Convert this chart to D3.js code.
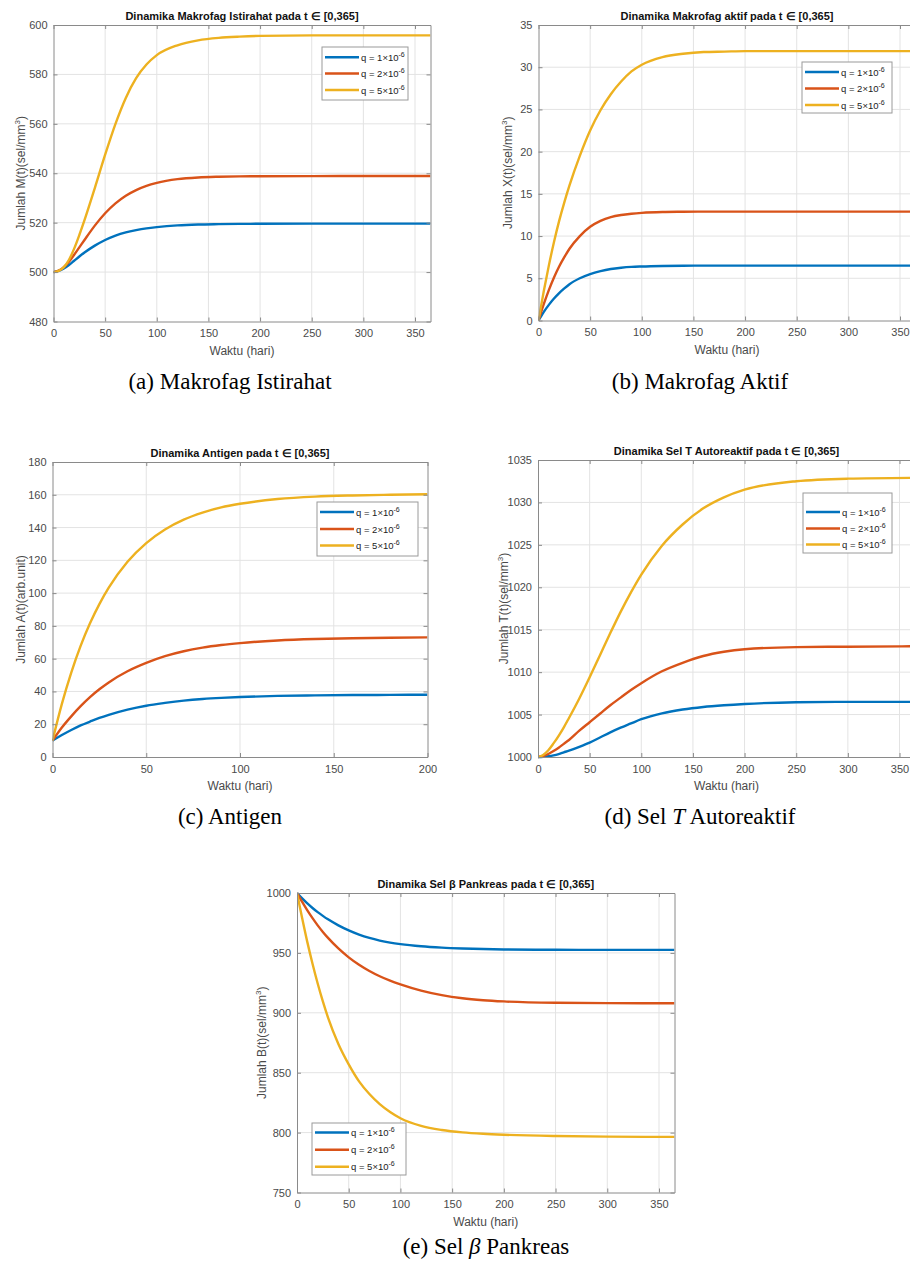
<!DOCTYPE html>
<html>
<head>
<meta charset="utf-8">
<script src="https://cdn.jsdelivr.net/npm/d3@7"></script>
<style>
  body { margin: 0; background: #fff; }
  svg { display: block; }
  text { font-family: "Liberation Sans", Arial, Helvetica, sans-serif; }
</style>
</head>
<body>
<svg id="fig" width="910" height="1266"></svg>
<script>
// ---- time grid (days) ----
const tDays = [0, 5, 10, 15, 20, 25, 30, 40, 50, 60, 70, 80, 90, 100, 120, 140, 160, 180, 200, 250, 300, 365];
const tDaysAntigen = [0, 5, 10, 15, 20, 25, 30, 40, 50, 60, 70, 80, 90, 100, 120, 140, 160, 180, 200];

// ---- parameter values shown in legends ----
const qMantissa = ["1", "2", "5"];
const qExponent = "-6";
const seriesColors = ["#0072BD", "#D95319", "#EDB120"];

// ---- (a) resting macrophages M(t) ----
const M_q1 = [500, 500.5, 501.5, 502.9, 504.6, 506.3, 507.9, 510.7, 513.0, 514.8, 516.1, 517.0, 517.7, 518.2, 518.9, 519.25, 519.4, 519.5, 519.55, 519.6, 519.6, 519.6];
const M_q2 = [500, 500.6, 502.0, 504.2, 507.0, 510.0, 513.0, 518.8, 523.8, 527.8, 530.9, 533.2, 534.9, 536.1, 537.6, 538.3, 538.6, 538.75, 538.8, 538.85, 538.9, 538.9];
const M_q5 = [500, 500.5, 502.0, 505.0, 509.5, 515.0, 521.0, 534.0, 547.5, 560.0, 570.5, 578.5, 584.0, 587.8, 591.8, 593.8, 594.8, 595.3, 595.6, 595.8, 595.8, 595.8];

// ---- (b) active macrophages X(t) ----
const X_q1 = [0, 1.0, 1.85, 2.6, 3.25, 3.8, 4.3, 5.0, 5.5, 5.85, 6.1, 6.25, 6.35, 6.4, 6.46, 6.49, 6.5, 6.5, 6.5, 6.5, 6.5, 6.5];
const X_q2 = [0, 1.9, 3.6, 5.1, 6.4, 7.5, 8.5, 10.0, 11.1, 11.8, 12.25, 12.5, 12.65, 12.75, 12.85, 12.88, 12.9, 12.9, 12.9, 12.9, 12.9, 12.9];
const X_q5 = [0, 3.4, 6.5, 9.3, 11.8, 14.0, 16.0, 19.5, 22.5, 24.9, 26.8, 28.3, 29.5, 30.3, 31.2, 31.6, 31.8, 31.85, 31.9, 31.9, 31.9, 31.9];

// ---- (c) antigen A(t), 0..200 days ----
const A_q1 = [10, 13.4, 16.5, 19.3, 21.6, 23.8, 25.7, 28.9, 31.3, 33.0, 34.4, 35.4, 36.1, 36.6, 37.3, 37.6, 37.8, 37.9, 38.0];
const A_q2 = [10, 18.0, 24.8, 31.0, 36.5, 41.3, 45.5, 52.3, 57.4, 61.5, 64.5, 66.7, 68.3, 69.5, 71.1, 72.0, 72.5, 72.8, 73.0];
const A_q5 = [10, 32.4, 51.5, 67.8, 81.6, 93.3, 103.3, 119.1, 130.5, 138.8, 144.8, 149.1, 152.3, 154.5, 157.4, 158.9, 159.6, 160.0, 160.3];

// ---- (d) autoreactive T cells T(t) ----
const T_q1 = [1000, 1000.03, 1000.1, 1000.2, 1000.35, 1000.55, 1000.75, 1001.2, 1001.7, 1002.3, 1002.9, 1003.45, 1003.95, 1004.45, 1005.15, 1005.6, 1005.9, 1006.1, 1006.25, 1006.45, 1006.5, 1006.5];
const T_q2 = [1000, 1000.1, 1000.35, 1000.7, 1001.1, 1001.55, 1002.0, 1003.1, 1004.1, 1005.1, 1006.1, 1007.0, 1007.9, 1008.7, 1010.1, 1011.1, 1011.9, 1012.4, 1012.7, 1012.95, 1013.0, 1013.05];
const T_q5 = [1000, 1000.25, 1000.8, 1001.6, 1002.5, 1003.5, 1004.6, 1006.9, 1009.4, 1012.0, 1014.6, 1017.1, 1019.4, 1021.5, 1024.9, 1027.4, 1029.3, 1030.6, 1031.5, 1032.5, 1032.8, 1032.9];

// ---- (e) pancreatic beta cells B(t) ----
const B_q1 = [1000, 995.5, 991.3, 987.5, 984.0, 980.9, 978.0, 973.0, 968.8, 965.3, 962.5, 960.3, 958.6, 957.3, 955.5, 954.4, 953.7, 953.2, 952.9, 952.6, 952.5, 952.5];
const B_q2 = [1000, 992.5, 985.5, 979.0, 973.0, 967.5, 962.5, 953.7, 946.3, 940.1, 934.9, 930.5, 926.8, 923.7, 918.5, 914.7, 912.1, 910.5, 909.5, 908.4, 908.1, 908.0];
const B_q5 = [1000, 979.0, 959.0, 941.0, 924.5, 909.5, 896.0, 874.0, 857.0, 842.8, 832.2, 823.8, 817.2, 812.0, 805.6, 802.2, 800.2, 799.0, 798.2, 797.1, 796.6, 796.4];

// ---- axis ticks ----
const xTicksYear = [0, 50, 100, 150, 200, 250, 300, 350];
const xTicksAntigen = [0, 50, 100, 150, 200];
const yTicksM = [480, 500, 520, 540, 560, 580, 600];
const yTicksX = [0, 5, 10, 15, 20, 25, 30, 35];
const yTicksA = [0, 20, 40, 60, 80, 100, 120, 140, 160, 180];
const yTicksT = [1000, 1005, 1010, 1015, 1020, 1025, 1030, 1035];
const yTicksB = [750, 800, 850, 900, 950, 1000];

// ---- panel layout ----
const panels = [
  { title: "Dinamika Makrofag Istirahat pada t ∈ [0,365]",
    yLabel: ["Jumlah M(t)(sel/mm", "3", ")"], caption: ["(a) Makrofag Istirahat"],
    t: tDays, series: [M_q1, M_q2, M_q5], xDomain: [0, 365], yDomain: [480, 600],
    xTicks: xTicksYear, yTicks: yTicksM,
    box: { left: 53.5, right: 430.5, top: 25, bottom: 321.5 },
    yLabelX: 25, captionX: 230, captionY: 389,
    legend: { x: 322, y: 47, w: 86, h: 53, rows: [57.3, 73.5, 90] } },
  { title: "Dinamika Makrofag aktif pada t ∈ [0,365]",
    yLabel: ["Jumlah X(t)(sel/mm", "3", ")"], caption: ["(b) Makrofag Aktif"],
    t: tDays, series: [X_q1, X_q2, X_q5], xDomain: [0, 365], yDomain: [0, 35],
    xTicks: xTicksYear, yTicks: yTicksX,
    box: { left: 538.5, right: 915.5, top: 25, bottom: 320.5 },
    yLabelX: 512, captionX: 700, captionY: 389,
    legend: { x: 802, y: 62, w: 90, h: 51, rows: [72, 88.5, 105] } },
  { title: "Dinamika Antigen pada t ∈ [0,365]",
    yLabel: ["Jumlah A(t)(arb.unit)"], caption: ["(c) Antigen"],
    t: tDaysAntigen, series: [A_q1, A_q2, A_q5], xDomain: [0, 200], yDomain: [0, 180],
    xTicks: xTicksAntigen, yTicks: yTicksA,
    box: { left: 52.5, right: 427.5, top: 462, bottom: 757 },
    yLabelX: 25, captionX: 230, captionY: 824,
    legend: { x: 317, y: 502, w: 101, h: 54, rows: [512, 529, 545.5] } },
  { title: "Dinamika Sel T Autoreaktif pada t ∈ [0,365]",
    yLabel: ["Jumlah T(t)(sel/mm", "3", ")"], caption: ["(d) Sel ", "T", " Autoreaktif"],
    t: tDays, series: [T_q1, T_q2, T_q5], xDomain: [0, 365], yDomain: [1000, 1035],
    xTicks: xTicksYear, yTicks: yTicksT,
    box: { left: 538, right: 915, top: 460, bottom: 757 },
    yLabelX: 508, captionX: 700, captionY: 824,
    legend: { x: 803, y: 493, w: 89, h: 60, rows: [512, 528.5, 544.5] } },
  { title: "Dinamika Sel β Pankreas pada t ∈ [0,365]",
    yLabel: ["Jumlah B(t)(sel/mm", "3", ")"], caption: ["(e) Sel ", "β", " Pankreas"],
    t: tDays, series: [B_q1, B_q2, B_q5], xDomain: [0, 365], yDomain: [750, 1000],
    xTicks: xTicksYear, yTicks: yTicksB,
    box: { left: 297, right: 674.5, top: 893, bottom: 1192.5 },
    yLabelX: 266, captionX: 486, captionY: 1254,
    legend: { x: 312, y: 1123, w: 94, h: 52, rows: [1132.5, 1149.7, 1166.7] } }
];

const svg = d3.select("#fig");
const axisColor = "#8a8a8a";
const tickTextColor = "#4a4a4a";
const gridColor = "#e3e3e3";
const plainNumber = d3.format("d");

panels.forEach((p, i) => {
  const b = p.box;
  const x = d3.scaleLinear().domain(p.xDomain).range([b.left, b.right]);
  const y = d3.scaleLinear().domain(p.yDomain).range([b.bottom, b.top]);
  const g = svg.append("g").attr("class", "panel");

  // plot background
  g.append("rect").attr("x", b.left).attr("y", b.top)
    .attr("width", b.right - b.left).attr("height", b.bottom - b.top).attr("fill", "#fff");

  // grid
  g.append("g").selectAll("line").data(p.xTicks.filter(v => v > p.xDomain[0] && v < p.xDomain[1]))
    .join("line").attr("x1", d => x(d)).attr("x2", d => x(d))
    .attr("y1", b.top).attr("y2", b.bottom).attr("stroke", gridColor).attr("stroke-width", 1);
  g.append("g").selectAll("line").data(p.yTicks.filter(v => v > p.yDomain[0] && v < p.yDomain[1]))
    .join("line").attr("y1", d => y(d)).attr("y2", d => y(d))
    .attr("x1", b.left).attr("x2", b.right).attr("stroke", gridColor).attr("stroke-width", 1);

  // clip for curves
  const clipId = "clip" + i;
  g.append("clipPath").attr("id", clipId).append("rect")
    .attr("x", b.left).attr("y", b.top - 2).attr("width", b.right - b.left).attr("height", b.bottom - b.top + 4);

  const line = d3.line().x((d, k) => x(p.t[k])).y(d => y(d)).curve(d3.curveMonotoneX);
  const curves = g.append("g").attr("clip-path", `url(#${clipId})`);
  p.series.forEach((vals, s) => {
    curves.append("path").datum(vals).attr("d", line)
      .attr("fill", "none").attr("stroke", seriesColors[s]).attr("stroke-width", 2.4)
      .attr("stroke-linejoin", "round");
  });

  // axes (inward ticks, box on)
  const styleAxis = sel => {
    sel.select(".domain").attr("stroke", axisColor);
    sel.selectAll(".tick line").attr("stroke", axisColor);
    sel.selectAll(".tick text").attr("fill", tickTextColor).attr("font-size", 11);
  };
  g.append("g").attr("transform", `translate(0,${b.bottom})`)
    .call(d3.axisBottom(x).tickValues(p.xTicks).tickFormat(plainNumber).tickSizeInner(-4).tickSizeOuter(0).tickPadding(8))
    .call(styleAxis);
  g.append("g").attr("transform", `translate(0,${b.top})`)
    .call(d3.axisTop(x).tickValues(p.xTicks).tickSizeInner(-4).tickSizeOuter(0).tickFormat(""))
    .call(styleAxis);
  g.append("g").attr("transform", `translate(${b.left},0)`)
    .call(d3.axisLeft(y).tickValues(p.yTicks).tickFormat(plainNumber).tickSizeInner(-4).tickSizeOuter(0).tickPadding(6))
    .call(styleAxis);
  g.append("g").attr("transform", `translate(${b.right},0)`)
    .call(d3.axisRight(y).tickValues(p.yTicks).tickSizeInner(-4).tickSizeOuter(0).tickFormat(""))
    .call(styleAxis);
  g.selectAll(".tick text").attr("font-family", "Liberation Sans, Arial, sans-serif");

  // title
  g.append("text").attr("x", (b.left + b.right) / 2).attr("y", b.top - 5)
    .attr("text-anchor", "middle").attr("font-size", 11).attr("font-weight", "bold")
    .attr("fill", "#111").text(p.title);

  // x label
  g.append("text").attr("x", (b.left + b.right) / 2).attr("y", b.bottom + 33)
    .attr("text-anchor", "middle").attr("font-size", 12).attr("fill", tickTextColor)
    .text("Waktu (hari)");

  // y label
  const yl = g.append("text")
    .attr("transform", `translate(${p.yLabelX},${(b.top + b.bottom) / 2}) rotate(-90)`)
    .attr("text-anchor", "middle").attr("font-size", 12).attr("fill", tickTextColor);
  yl.append("tspan").text(p.yLabel[0]);
  if (p.yLabel.length > 1) {
    yl.append("tspan").attr("dy", -5).attr("font-size", 8).text(p.yLabel[1]);
    yl.append("tspan").attr("dy", 5).text(p.yLabel[2]);
  }

  // legend
  const L = p.legend;
  const lg = g.append("g");
  lg.append("rect").attr("x", L.x).attr("y", L.y).attr("width", L.w).attr("height", L.h)
    .attr("fill", "#fff").attr("stroke", "#9a9a9a").attr("stroke-width", 1);
  L.rows.forEach((ry, s) => {
    lg.append("line").attr("x1", L.x + 3).attr("x2", L.x + 37).attr("y1", ry).attr("y2", ry)
      .attr("stroke", seriesColors[s]).attr("stroke-width", 2.4);
    const t = lg.append("text").attr("x", L.x + 39).attr("y", ry + 3.5)
      .attr("font-size", 9.5).attr("fill", "#222");
    t.append("tspan").text(`q = ${qMantissa[s]}×10`);
    t.append("tspan").attr("dy", -4).attr("font-size", 7).text(qExponent);
  });

  // caption
  const cap = svg.append("text").attr("x", p.captionX).attr("y", p.captionY)
    .attr("text-anchor", "middle").attr("font-size", 23)
    .attr("font-family", "Liberation Serif, Times New Roman, serif").attr("fill", "#000");
  p.caption.forEach((part, k) => {
    const ts = cap.append("tspan").text(part).attr("font-family", "Liberation Serif, Times New Roman, serif");
    if (k === 1) ts.attr("font-style", "italic");
  });
});
</script>
</body>
</html>
